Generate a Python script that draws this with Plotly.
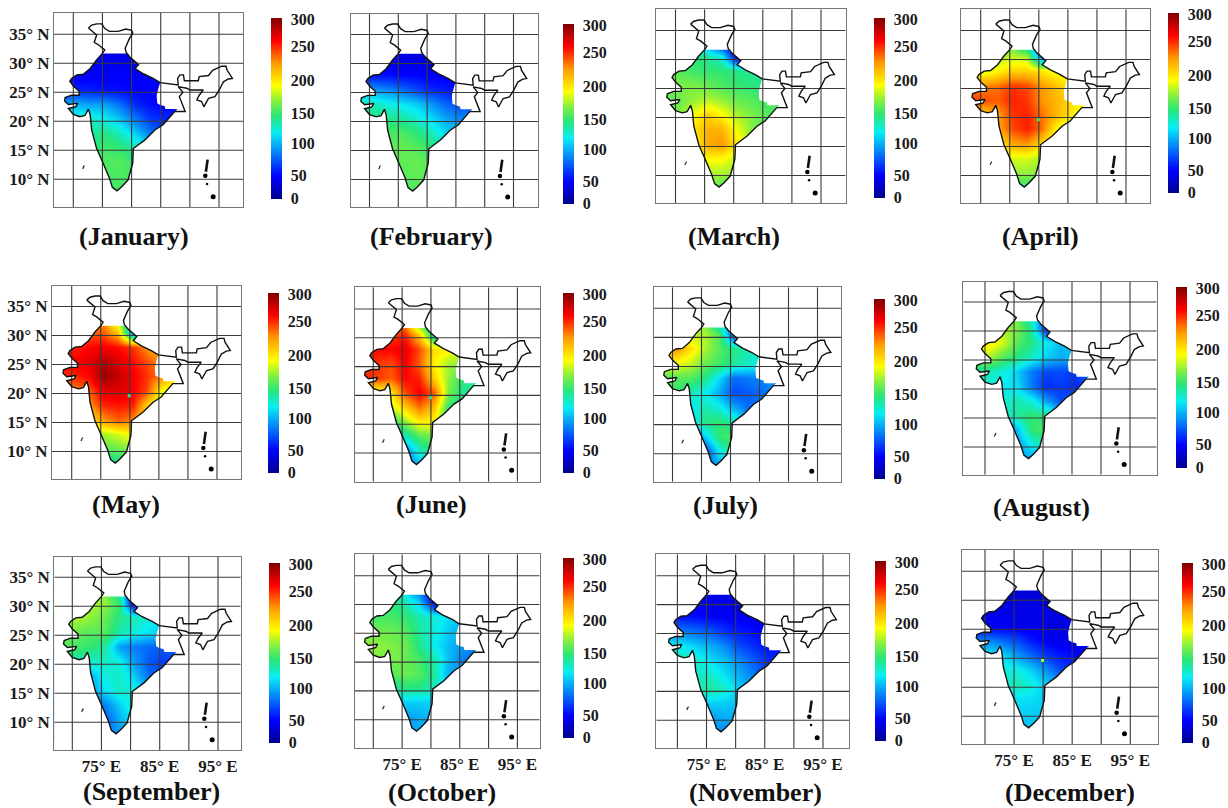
import plotly.graph_objects as go

MONTHS = ["January","February","March","April","May","June","July","August","September","October","November","December"]
GRID_LON = [68,70.5,73,75.5,78,80.5,83,85.5,88]
GRID_LAT = [33,30.5,28,25.5,23,20.5,18,15.5,13,10.5,8]

JAN = [[30,30,30,30,30,30,30,30,30],[30,30,32,32,30,28,30,30,30],[30,32,34,36,36,36,34,34,34],[50,48,46,42,40,38,36,34,34],[90,90,85,85,70,50,40,36,38],[120,120,120,110,95,75,55,50,50],[125,125,130,135,120,100,75,60,60],[130,130,135,145,140,125,110,100,100],[130,135,140,148,150,140,130,130,130],[135,135,140,145,148,145,135,130,130],[130,130,135,140,145,140,130,130,130]]
FEB = [[35,35,35,30,28,28,30,30,30],[35,35,32,30,28,25,30,30,30],[45,42,40,38,38,35,35,35,35],[85,85,80,72,60,50,45,40,40],[125,125,115,108,100,85,70,60,60],[135,135,135,130,120,105,90,80,80],[140,140,145,148,140,125,105,95,95],[145,145,150,155,150,140,125,120,120],[150,150,150,152,155,150,145,145,145],[145,145,148,150,152,150,145,140,140],[140,140,145,145,148,145,140,140,140]]
MAR = [[120,120,110,70,35,25,35,40,40],[140,140,140,130,115,30,90,120,120],[150,150,145,140,140,135,130,130,130],[155,160,160,155,148,142,138,135,135],[150,155,165,172,165,155,150,145,145],[150,160,185,205,190,170,160,150,150],[160,170,195,215,215,185,160,150,150],[170,170,190,220,225,195,170,150,150],[170,170,180,190,190,175,160,150,150],[160,160,165,170,170,165,160,150,150],[150,150,155,155,150,150,150,150,150]]
APR = [[150,150,150,145,100,40,40,100,100],[170,170,170,175,170,70,130,170,170],[175,180,190,205,205,195,185,180,180],[235,230,235,250,245,225,210,195,190],[245,245,240,255,250,225,215,200,190],[210,205,220,250,255,235,215,195,170],[200,190,220,245,255,235,190,170,170],[170,170,190,220,225,200,170,165,165],[165,165,170,180,180,170,160,160,160],[150,150,155,165,165,160,150,150,150],[135,135,140,140,140,140,140,140,140]]
MAY = [[225,225,225,220,160,90,50,100,100],[235,235,240,240,210,80,180,230,230],[250,255,262,265,260,250,225,210,210],[262,265,270,285,272,260,245,225,225],[250,255,262,292,280,265,250,230,200],[225,230,240,270,272,265,245,185,170],[215,215,225,255,258,255,205,170,170],[170,170,195,225,240,230,190,170,170],[160,160,165,170,180,190,170,170,170],[135,135,140,150,155,165,150,150,150],[125,125,125,125,130,130,130,130,130]]
JUN = [[230,230,230,220,130,110,70,100,100],[245,245,250,255,210,120,150,170,170],[262,262,262,268,245,200,190,180,170],[255,250,245,265,240,190,170,160,150],[255,250,240,262,255,205,165,140,125],[170,180,195,245,265,240,160,130,130],[150,150,175,205,235,210,140,130,130],[120,120,135,165,195,190,130,120,120],[90,90,100,125,150,160,140,130,130],[60,60,65,75,120,140,130,130,130],[70,70,70,75,90,100,100,100,100]]
JUL = [[170,170,170,160,100,80,60,90,90],[190,190,175,170,150,55,90,120,120],[225,225,200,170,150,135,125,115,115],[180,185,175,155,145,130,120,110,110],[150,150,150,135,105,70,75,80,80],[140,140,125,110,90,60,65,70,85],[120,110,105,125,115,90,70,80,80],[80,85,100,135,140,125,100,90,90],[50,55,60,100,140,150,130,120,120],[40,45,50,55,110,140,130,120,120],[70,70,70,70,85,90,90,90,90]]
AUG = [[165,165,165,150,110,70,45,90,90],[180,180,170,160,130,45,60,100,100],[195,195,180,150,135,110,95,100,100],[170,170,150,135,120,100,90,95,95],[125,125,115,100,75,60,60,55,70],[120,115,110,105,75,50,55,50,60],[110,110,115,125,115,85,60,70,70],[85,95,115,130,140,135,105,90,90],[60,60,65,95,140,150,140,130,130],[70,75,80,85,110,130,130,120,120],[85,85,85,85,90,95,95,95,95]]
SEP = [[165,165,165,160,120,40,25,80,80],[175,175,170,165,140,30,50,110,110],[170,170,165,155,135,125,115,110,110],[160,155,150,150,125,115,105,100,100],[150,145,140,130,85,75,70,65,70],[125,125,120,120,115,85,65,55,55],[100,95,90,115,120,100,70,60,60],[85,85,85,105,120,115,100,90,90],[70,70,70,75,100,120,110,110,110],[65,65,65,65,90,110,110,100,100],[70,70,70,70,85,95,95,95,95]]
OCT = [[160,150,140,100,60,30,30,60,60],[150,150,140,125,100,30,60,90,90],[145,145,145,140,125,115,105,95,95],[155,155,155,150,130,115,100,85,85],[165,165,160,155,135,110,95,85,80],[160,160,160,155,145,125,95,75,70],[150,150,150,155,150,130,90,85,80],[115,115,125,135,135,120,105,100,100],[90,90,90,100,100,100,90,90,90],[85,85,85,85,90,95,90,90,90],[85,85,85,85,90,90,90,90,90]]
NOV = [[30,30,30,30,30,30,30,30,30],[35,35,35,32,30,25,30,30,30],[45,42,40,36,35,33,33,33,33],[75,75,70,65,52,45,40,35,35],[110,110,100,90,78,60,50,42,40],[125,125,120,105,95,80,65,50,50],[125,120,120,120,105,90,75,60,60],[115,115,120,130,120,100,85,85,85],[95,95,95,100,100,95,90,90,90],[80,80,80,85,90,90,90,90,90],[80,80,80,80,80,85,85,85,85]]
DEC = [[25,25,25,25,25,25,25,25,25],[25,25,25,25,25,25,25,25,25],[30,30,30,30,30,28,28,28,28],[35,35,35,32,30,28,28,28,28],[80,80,70,60,45,35,30,30,30],[110,110,105,85,70,55,45,40,40],[110,110,115,115,100,80,60,50,50],[100,105,115,125,115,100,90,85,85],[100,100,100,105,105,100,100,100,100],[95,95,95,100,100,100,100,100,100],[95,95,95,95,95,100,100,100,100]]
MONTH_GRIDS = [JAN,FEB,MAR,APR,MAY,JUN,JUL,AUG,SEP,OCT,NOV,DEC]

SOUTH_COAST = [(86.6,20.8),(85.4,19.4),(84.0,18.5),(82.3,16.8),(80.3,15.3),(80.2,12.8),(79.7,11.0),(79.4,9.9),(78.3,8.7),(77.5,8.0),(76.7,8.6),(76.2,10.2),(75.1,12.8),(74.0,15.3),(73.15,18.5),(73.0,19.9),(72.9,21.1),(72.6,22.1),(72.0,21.0),(71.15,20.8),(70.0,21.2),(69.15,22.2),(70.4,22.5),(70.75,23.1),(69.15,22.9),(68.5,23.5),(68.6,24.1),(69.7,24.5),(71.0,24.5),(71.0,25.2),(70.0,26.1),(69.4,26.9),(69.7,27.4),(70.6,28.0),(71.7,28.1),(72.9,29.1),(74.0,30.6)]
INDIA_NORTH = [(72.6,36.1),(73.15,36.6),(74.0,36.8),(74.9,36.8),(75.4,36.0),(76.2,35.5),(77.7,35.5),(79.0,35.9),(80.0,35.7),(80.2,35.2),(79.6,34.2),(79.2,33.4),(78.9,32.6),(79.05,31.9),(79.7,31.1),(81.2,29.8),(80.6,29.1),(82.0,28.2),(83.7,27.4),(84.9,26.66),(88.0,26.26),(87.9,27.4),(88.3,28.0),(88.9,28.0),(89.05,27.0),(91.45,27.0),(91.6,27.7),(93.2,27.9),(93.9,28.8),(95.45,29.5),(96.2,29.5),(96.4,28.8),(97.3,27.4),(96.6,27.3),(95.75,26.8),(95.05,25.4),(94.3,24.25),(93.2,23.96),(92.4,22.5),(92.0,23.4),(91.2,23.7),(91.6,24.5),(92.3,25.4),(90.0,25.4),(89.45,25.7),(88.0,25.97),(88.8,25.0),(88.2,24.25),(89.05,22.2),(89.2,21.7),(87.4,21.7)]
INDIA_KASHMIR_WEST = [(75.0,31.7),(75.4,32.3),(74.3,33.2),(73.6,33.6),(74.0,34.9),(73.4,35.4),(72.6,36.1)]
HEAT_NORTH = [(75.0,31.7),(79.2,31.7),(79.7,31.1),(81.2,29.8),(80.6,29.1),(82.0,28.2),(83.7,27.4),(84.9,26.66),(84.6,25.7),(84.3,24.5),(84.4,23.1),(84.9,22.8),(85.7,22.6),(85.8,22.1),(87.9,22.1),(87.4,21.7)]

ANDAMAN = [(93.05,13.4),(92.75,11.3)]
ISLAND_DOTS = [(92.65,10.6,4.5),(92.95,9.2,2.5),(94.0,7.0,5)]
LAKSHADWEEP = [(71.9,12.4),(71.6,11.8)]
SPOT_LON = 79.9
SPOT_LAT = 19.6
SPOT_VALUES = {3:145, 4:130, 5:125, 11:170}

CB_TICKTEXT = ["300","250","200","150","100","50","0"]
CB_TICK_OFFSET = [1,28,62,95,125,157,179]
LON_LABELS = [75,85,95]
LAT_LABELS = [35,30,25,20,15,10]

JET = [[0,"#00008f"],[0.125,"#0000ff"],[0.365,"#08eef4"],[0.46,"#28e678"],[0.54,"#84f040"],[0.625,"#ffff00"],[0.75,"#ff9a00"],[0.875,"#ff0000"],[1,"#800000"]]

# L,R,T,B frame; x70,x95,y35,y10 grid anchors; bar L,T,B; label cx,cy
PANELS = [
 (54,243,13,207, 73.3,219,34.3,179.3, 271,18,199, 134,237),
 (351,538,14,207, 369.5,513.5,34.5,179.5, 563,24,204, 431.6,237),
 (656,845.6,9.3,203.3, 675.5,821,30.5,175.5, 874,18,198, 733.5,237),
 (961,1150,9.3,203, 980.7,1126,30.5,175.5, 1168,13,193, 1040.7,237),
 (52,241,285.7,479, 71.7,217,306.5,451.5, 268,293,473, 125.7,504),
 (355,540,287.3,481.7, 373.3,517.4,309,453, 563,293,473, 431,504),
 (653.7,841,287.3,481.7, 672.5,817.5,308.3,453.7, 874,299,479, 725,505),
 (963.3,1156.7,281.7,474.7, 985,1130,302,447, 1176,287,468, 1041.7,507),
 (54.3,240.7,556.7,750, 72.3,218,577.3,722.3, 269,563,743, 151.7,791),
 (355,539.6,554.3,748.3, 373.3,517.4,575.7,719.7, 563,558,738, 441.8,792),
 (656.3,849.4,554.3,748.3, 677.4,823,575.7,720.3, 875,561,741, 755.3,792.5),
 (961.7,1158.3,550,744, 985,1130.3,571.3,716.3, 1182,563,743, 1070,792.5),
]
W, H = 1228, 808
SERIF = "Liberation Serif"

india = INDIA_NORTH + SOUTH_COAST + INDIA_KASHMIR_WEST
heat = HEAT_NORTH + SOUTH_COAST
heat_lon = [p[0] for p in heat]; heat_lat = [p[1] for p in heat]

fig = go.Figure()
layout = dict(width=W, height=H, margin=dict(l=0,r=0,t=0,b=0,autoexpand=False),
              paper_bgcolor="white", plot_bgcolor="white", showlegend=False, annotations=[])

for i,(name,grid,p) in enumerate(zip(MONTHS,MONTH_GRIDS,PANELS)):
    L,R,T,B,x70,x95,y35,y10,bl,bt,bb,cx,cy = p
    sx = 25/(x95-x70); sy = 25/(y10-y35)
    xr = [70+(L-x70)*sx, 70+(R-x70)*sx]
    yr = [35-(B-y35)*sy, 35-(T-y35)*sy]
    n = "" if i==0 else str(i+1)
    xa, ya = "x"+n, "y"+n
    bottom = i>=8
    left = i%4==0
    layout["xaxis"+n] = dict(domain=[L/W,R/W], range=xr, anchor=ya, showgrid=False, zeroline=False,
        showline=True, mirror=True, linecolor="#777777", linewidth=1.2, layer="above traces", ticks="",
        tickmode="array", tickvals=LON_LABELS if bottom else [], ticktext=[f"{v}° E" for v in LON_LABELS] if bottom else [],
        tickfont=dict(family=SERIF,size=17,color="#1a1a1a",weight="bold"))
    layout["yaxis"+n] = dict(domain=[1-B/H,1-T/H], range=yr, anchor=xa, showgrid=False, zeroline=False,
        showline=True, mirror=True, linecolor="#777777", linewidth=1.2, layer="above traces", ticks="",
        tickmode="array", tickvals=LAT_LABELS if left else [], ticktext=[f"{v}° N" for v in LAT_LABELS] if left else [],
        tickfont=dict(family=SERIF,size=17,color="#1a1a1a",weight="bold"))
    cbv = [300*(1-o/180) for o in CB_TICK_OFFSET]
    fig.add_trace(go.Heatmap(x=GRID_LON,y=GRID_LAT,z=grid,xaxis=xa,yaxis=ya,zmin=0,zmax=300,zsmooth="best",
        colorscale=JET,colorbar=dict(x=bl/W,xanchor="left",xref="paper",y=1-bt/H,yanchor="top",yref="paper",
            len=bb-bt,lenmode="pixels",thickness=10.5,thicknessmode="pixels",outlinewidth=0,xpad=0,ypad=0,
            tickmode="array",tickvals=cbv,ticktext=CB_TICKTEXT,ticks="outside",ticklen=6,tickcolor="rgba(255,255,255,0)",
            tickfont=dict(family=SERIF,size=16,color="#1a1a1a",weight="bold"))))
    mx = [60,105,105,60,60]+heat_lon+[heat_lon[0],60]
    my = [0,0,45,45,0]+heat_lat+[heat_lat[0],0]
    fig.add_trace(go.Scatter(x=mx,y=my,xaxis=xa,yaxis=ya,mode="none",fill="toself",fillcolor="white",hoverinfo="skip"))
    gx,gy=[],[]
    for v in [70,75,80,85,90,95]:
        gx+=[v,v,None]; gy+=[yr[0],yr[1],None]
    for v in LAT_LABELS:
        gx+=[xr[0],xr[1],None]; gy+=[v,v,None]
    fig.add_trace(go.Scatter(x=gx,y=gy,xaxis=xa,yaxis=ya,mode="lines",line=dict(color="#3a3a3a",width=1.1),hoverinfo="skip"))
    fig.add_trace(go.Scatter(x=[q[0] for q in india],y=[q[1] for q in india],xaxis=xa,yaxis=ya,mode="lines",line=dict(color="#111111",width=1.4),hoverinfo="skip"))
    fig.add_trace(go.Scatter(x=[q[0] for q in ANDAMAN],y=[q[1] for q in ANDAMAN],xaxis=xa,yaxis=ya,mode="lines",line=dict(color="#111111",width=2.6),hoverinfo="skip"))
    fig.add_trace(go.Scatter(x=[q[0] for q in ISLAND_DOTS],y=[q[1] for q in ISLAND_DOTS],xaxis=xa,yaxis=ya,mode="markers",
        marker=dict(color="#000000",opacity=1,size=[q[2] for q in ISLAND_DOTS],line=dict(width=0)),hoverinfo="skip"))
    fig.add_trace(go.Scatter(x=[q[0] for q in LAKSHADWEEP],y=[q[1] for q in LAKSHADWEEP],xaxis=xa,yaxis=ya,mode="lines",line=dict(color="#333333",width=1.3),hoverinfo="skip"))
    if i in SPOT_VALUES:
        fig.add_trace(go.Scatter(x=[SPOT_LON],y=[SPOT_LAT],xaxis=xa,yaxis=ya,mode="markers",hoverinfo="skip",
            marker=dict(symbol="square",size=3,color=[SPOT_VALUES[i]],cmin=0,cmax=300,colorscale=JET,showscale=False)))
    layout["annotations"].append(dict(x=cx/W,y=1-cy/H,xref="paper",yref="paper",text=f"({name})",showarrow=False,
        xanchor="center",yanchor="middle",font=dict(family=SERIF,size=26,color="#111111",weight="bold")))

fig.update_layout(**layout)
fig.write_html("out.html", config=dict(displayModeBar=False), post_script="document.body.style.margin='0';")
